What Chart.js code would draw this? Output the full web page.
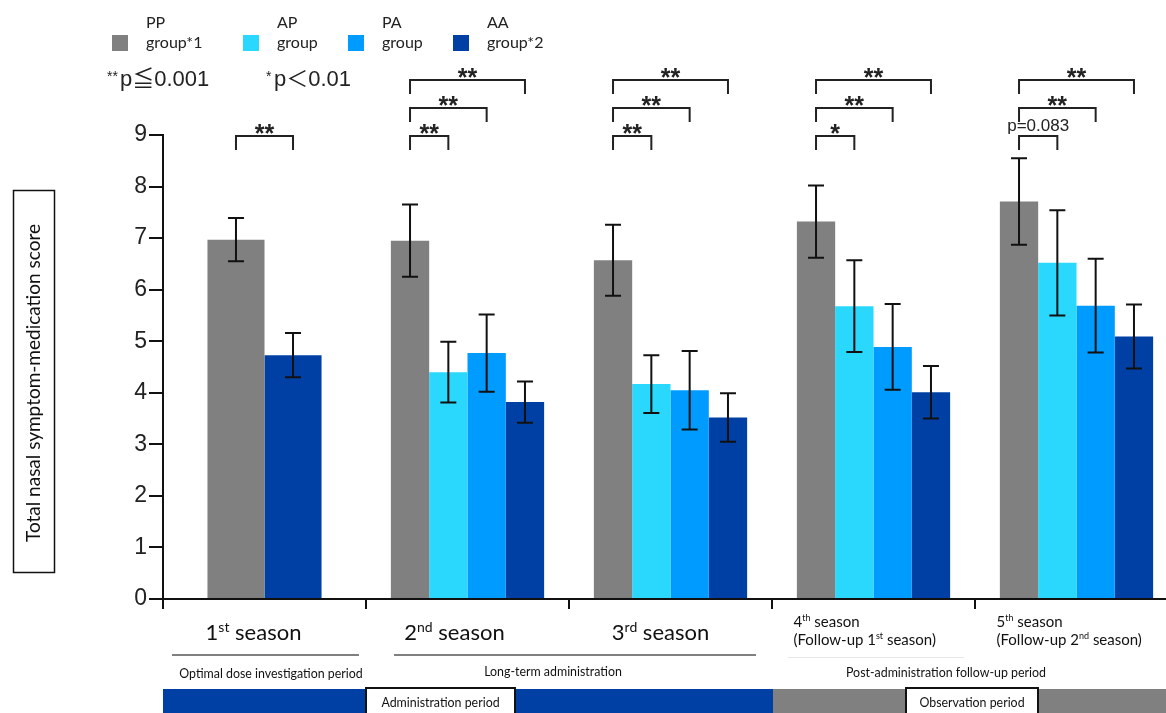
<!DOCTYPE html>
<html>
<head>
<meta charset="utf-8">
<script src="https://cdn.jsdelivr.net/npm/chart.js@4/dist/chart.umd.min.js"></script>
<style>
  html, body { margin: 0; padding: 0; background: #fff; overflow: hidden; }
  #chart { display: block; }
</style>
</head>
<body>
<canvas id="chart" width="1180" height="713"></canvas>
<script>
// seasons and groups
const seasons = ['1st season', '2nd season', '3rd season', '4th season', '5th season'];
const groupNames = ['PP', 'AP', 'PA', 'AA'];
const groupSuffix = ['group*1', 'group', 'group', 'group*2'];
const groupColors = ['#808080', '#29d8fc', '#009bff', '#0040a4'];

// mean total nasal symptom-medication score and error (±)
const ppMean = [6.97, 6.95, 6.57, 7.32, 7.71];
const ppErr  = [0.42, 0.70, 0.69, 0.70, 0.84];
const apMean = [null, 4.40, 4.17, 5.68, 6.52];
const apErr  = [null, 0.59, 0.56, 0.89, 1.02];
const paMean = [null, 4.77, 4.05, 4.89, 5.69];
const paErr  = [null, 0.75, 0.76, 0.83, 0.91];
const aaMean = [4.73, 3.82, 3.52, 4.01, 5.09];
const aaErr  = [0.43, 0.40, 0.47, 0.51, 0.62];

const yTicks = [0, 1, 2, 3, 4, 5, 6, 7, 8, 9];

// significance brackets: PP vs group sigTo, in season sigSeason
const sigSeason = [0, 1, 1, 1, 2, 2, 2, 3, 3, 3, 4, 4, 4];
const sigTo     = [3, 1, 2, 3, 1, 2, 3, 1, 2, 3, 1, 2, 3];
const sigTier   = [0, 0, 1, 2, 0, 1, 2, 0, 1, 2, 0, 1, 2];
const sigLabel  = ['**', '**', '**', '**', '**', '**', '**', '*', '**', '**', 'p=0.083', '**', '**'];

const means = [ppMean, apMean, paMean, aaMean];
const errs = [ppErr, apErr, paErr, aaErr];

const SANS = '"Liberation Sans", Arial, sans-serif';
const CAL = 'Lato, "Open Sans", sans-serif';
const JP = '"Liberation Sans", "Noto Sans CJK JP", sans-serif';

// seasons 2-5 with four bars
const mainSets = means.map((m, g) => ({
  label: groupNames[g],
  group: g,
  errors: errs[g],
  data: m.map((v, i) => (i === 0 ? null : v)),
  backgroundColor: groupColors[g],
  categoryPercentage: 0.755,
  barPercentage: 1,
  skipNull: true
}));
// first season has only PP and AA, drawn wider
const firstSets = [0, 3].map(g => ({
  label: groupNames[g] + ' 1st',
  group: g,
  errors: errs[g],
  data: means[g].map((v, i) => (i === 0 ? v : null)),
  backgroundColor: groupColors[g],
  categoryPercentage: 0.562,
  barPercentage: 1,
  skipNull: true
}));

function barX(chart, g, s) {
  for (let d = 0; d < chart.data.datasets.length; d++) {
    const ds = chart.data.datasets[d];
    if (ds.group === g && ds.data[s] != null) return chart.getDatasetMeta(d).data[s].x;
  }
  return null;
}

function drawSup(ctx, parts, x, y, size, align) {
  const small = Math.round(size * 0.62);
  let w = 0;
  parts.forEach(p => {
    ctx.font = (p[1] ? small : size) + 'px ' + CAL;
    w += ctx.measureText(p[0]).width;
  });
  let cx = align === 'center' ? x - w / 2 : x;
  ctx.textAlign = 'left';
  parts.forEach(p => {
    ctx.font = (p[1] ? small : size) + 'px ' + CAL;
    ctx.fillText(p[0], cx, p[1] ? y - size * 0.38 : y);
    cx += ctx.measureText(p[0]).width;
  });
}

const extras = {
  id: 'extras',
  afterDatasetsDraw(chart) {
    const ctx = chart.ctx;
    const y = chart.scales.y;
    ctx.save();
    ctx.strokeStyle = '#111';
    ctx.lineWidth = 2;
    chart.data.datasets.forEach((ds, d) => {
      const meta = chart.getDatasetMeta(d);
      ds.data.forEach((v, i) => {
        if (v == null) return;
        const bx = meta.data[i].x;
        const top = y.getPixelForValue(v + ds.errors[i]);
        const bot = y.getPixelForValue(v - ds.errors[i]);
        ctx.beginPath();
        ctx.moveTo(bx, top); ctx.lineTo(bx, bot);
        ctx.moveTo(bx - 8, top); ctx.lineTo(bx + 8, top);
        ctx.moveTo(bx - 8, bot); ctx.lineTo(bx + 8, bot);
        ctx.stroke();
      });
    });

    // significance brackets
    const base = y.getPixelForValue(9) + 1;
    ctx.strokeStyle = '#222';
    ctx.fillStyle = '#222';
    sigSeason.forEach((s, k) => {
      const x0 = barX(chart, 0, s);
      const x1 = barX(chart, sigTo[k], s);
      const top = base - sigTier[k] * 28;
      ctx.beginPath();
      ctx.moveTo(x0, top + 14); ctx.lineTo(x0, top); ctx.lineTo(x1, top); ctx.lineTo(x1, top + 14);
      ctx.stroke();
      ctx.textAlign = 'center';
      if (sigLabel[k].startsWith('p')) {
        ctx.font = '17px ' + SANS;
        ctx.fillText(sigLabel[k], (x0 + x1) / 2, top - 5);
      } else {
        ctx.font = 'bold 25px ' + SANS;
        ctx.fillText(sigLabel[k], (x0 + x1) / 2, top + 6);
      }
    });
    ctx.restore();
  },
  afterDraw(chart) {
    const ctx = chart.ctx;
    const x = chart.scales.x;
    ctx.save();
    ctx.fillStyle = '#111';
    ctx.textBaseline = 'alphabetic';

    // y title in a box
    ctx.strokeStyle = '#111';
    ctx.lineWidth = 1.5;
    ctx.strokeRect(13.5, 190.5, 41, 382);
    ctx.save();
    ctx.translate(40, 383);
    ctx.rotate(-Math.PI / 2);
    ctx.textAlign = 'center';
    ctx.font = '19px ' + CAL;
    ctx.fillText('Total nasal symptom-medication score', 0, 0);
    ctx.restore();

    // legend
    const legX = [112, 243, 348, 453];
    groupNames.forEach((n, g) => {
      ctx.fillStyle = groupColors[g];
      ctx.fillRect(legX[g], 35, 16, 16);
      ctx.fillStyle = '#222';
      ctx.textAlign = 'left';
      ctx.font = '16px ' + CAL;
      ctx.fillText(n, legX[g] + 34, 28);
      ctx.fillText(groupSuffix[g], legX[g] + 34, 48);
    });

    // p value notes
    ctx.font = '14px ' + SANS;
    ctx.fillText('**', 107, 81);
    ctx.fillText('*', 266, 81);
    ctx.font = '22px ' + JP;
    ctx.fillText('p≦0.001', 120, 86);
    ctx.fillText('p＜0.01', 274, 86);

    // season labels
    ctx.fillStyle = '#111';
    const sup = ['st', 'nd', 'rd', 'th', 'th'];
    const shift = [-11, -13, -10];
    for (let i = 0; i < 3; i++) {
      drawSup(ctx, [[String(i + 1), false], [sup[i], true], [' season', false]],
        x.getPixelForValue(i) + shift[i], 640, 22, 'center');
    }
    for (let i = 3; i < 5; i++) {
      const lx = x.getPixelForValue(i) - 80;
      drawSup(ctx, [[String(i + 1), false], [sup[i], true], [' season', false]], lx, 627, 15, 'left');
      drawSup(ctx, [['(Follow-up ' + (i - 2), false], [sup[i - 3], true], [' season)', false]], lx, 645, 15, 'left');
    }

    // period lines
    ctx.strokeStyle = '#808080';
    ctx.lineWidth = 2;
    ctx.beginPath();
    ctx.moveTo(172, 655); ctx.lineTo(359, 655);
    ctx.moveTo(394, 655); ctx.lineTo(756, 655);
    ctx.stroke();
    ctx.strokeStyle = '#e6e6e6';
    ctx.lineWidth = 1;
    ctx.beginPath();
    ctx.moveTo(788, 657.5); ctx.lineTo(964, 657.5);
    ctx.stroke();

    ctx.textAlign = 'center';
    ctx.font = '12.4px ' + CAL;
    ctx.fillText('Optimal dose investigation period', 271, 678);
    ctx.fillText('Long-term administration', 553, 676);
    ctx.fillText('Post-administration follow-up period', 946, 677);

    // period bars
    ctx.fillStyle = '#0040a4';
    ctx.fillRect(163, 689, 610, 24);
    ctx.fillStyle = '#808080';
    ctx.fillRect(773, 689, 410, 24);
    const boxes = [[366, 515, 'Administration period'], [906, 1038, 'Observation period']];
    boxes.forEach(b => {
      ctx.fillStyle = '#fff';
      ctx.fillRect(b[0], 687, b[1] - b[0], 26);
      ctx.strokeStyle = '#111';
      ctx.lineWidth = 2;
      ctx.beginPath();
      ctx.moveTo(b[0], 714); ctx.lineTo(b[0], 688); ctx.lineTo(b[1], 688); ctx.lineTo(b[1], 714);
      ctx.stroke();
      ctx.fillStyle = '#111';
      ctx.font = '12.4px ' + CAL;
      ctx.fillText(b[2], (b[0] + b[1]) / 2, 707);
    });
    ctx.restore();
  }
};

new Chart(document.getElementById('chart'), {
  type: 'bar',
  data: { labels: seasons, datasets: mainSets.concat(firstSets) },
  options: {
    responsive: false,
    animation: false,
    layout: { padding: { top: 135, left: 0, right: 2, bottom: 0 } },
    plugins: { legend: { display: false }, tooltip: { enabled: false } },
    scales: {
      x: {
        type: 'category',
        offset: true,
        border: { color: '#111', width: 2 },
        grid: { offset: true, drawOnChartArea: false, tickLength: 10, color: '#111', lineWidth: 2 },
        ticks: { display: false },
        afterFit(scale) { scale.height = 114; }
      },
      y: {
        min: 0,
        max: 9,
        afterBuildTicks(scale) { scale.ticks = yTicks.map(v => ({ value: v })); },
        border: { color: '#111', width: 2 },
        grid: { drawOnChartArea: false, tickLength: 14, color: '#111', lineWidth: 2 },
        ticks: { color: '#222', padding: 2, font: { family: '"Liberation Sans", Arial', size: 23 } },
        afterFit(scale) { scale.width = 163; }
      }
    }
  },
  plugins: [extras]
});
</script>
</body>
</html>
